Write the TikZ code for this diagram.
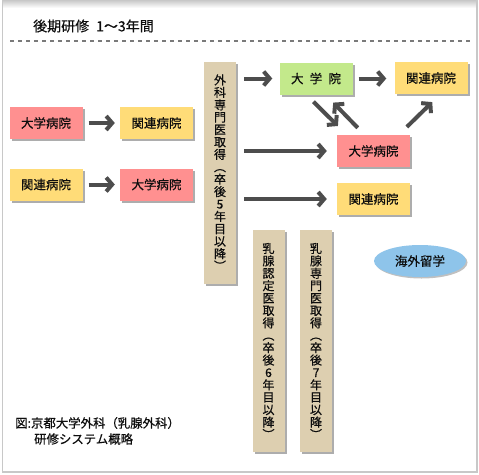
\documentclass[tikz,border=0pt]{standalone}
\usepackage{fontspec}
\newfontfamily\jp{Noto Sans CJK JP}[FakeBold=0.5]
\usetikzlibrary{arrows.meta,shapes.geometric,calc,shadows}
\definecolor{cred}{HTML}{FF9090}
\definecolor{cyel}{HTML}{FFDC78}
\definecolor{cgrn}{HTML}{C3E98B}
\definecolor{ctan}{HTML}{DDCFB0}
\definecolor{cblu}{HTML}{8EC4EA}
\definecolor{carr}{HTML}{4D4D4D}
\definecolor{cdash}{HTML}{7A7A7A}
\definecolor{cframe}{HTML}{C8C8C8}
\begin{document}
\begin{tikzpicture}[x=1pt,y=-1pt,
  shd/.style={drop shadow={shadow xshift=2pt,shadow yshift=-2pt,fill=black!40,opacity=0.8}},
  box/.style={rectangle,minimum width=73pt,minimum height=32pt,inner sep=0pt,
    font=\jp\fontsize{12.5}{14}\selectfont,text=black!95,shd},
  redbox/.style={box,fill=cred},
  yelbox/.style={box,fill=cyel},
  grnbox/.style={box,fill=cgrn},
  bar/.style={rectangle,minimum width=32pt,minimum height=222pt,inner sep=0pt,
    fill=ctan,shd,align=center,font=\jp\fontsize{12}{12.4}\selectfont,text=black!95},
  arr/.style={draw=carr,line width=4pt,-{Straight Barb[length=6pt,width=14pt]}},
  txt/.style={inner sep=0pt,text=black!95}
]
\useasboundingbox (0,0) rectangle (479,474);
% frame
\fill[white] (0,0) rectangle (479,474);
\shade[top color=black!22,bottom color=white] (2,0) rectangle (477,8);
\draw[cframe,line width=1.5pt] (2.5,0) -- (2.5,472) -- (476.8,472) -- (476.8,0);
% title
\node[txt,anchor=west,font=\jp\fontsize{14}{16}\selectfont] (title) at (33,26) {後期研修\hspace{7pt}1〜3年間};
\draw[cdash,line width=2pt,dash pattern=on 4.3pt off 3.7pt] (10,41) -- (470,41);
% left boxes
\node[redbox] (b1) at (46,123) {大学病院};
\node[yelbox] (y1) at (156.5,123) {関連病院};
\node[yelbox] (y2) at (46,184.5) {関連病院};
\node[redbox] (b2) at (156.5,184.5) {大学病院};
% bars
\node[bar] (bar1) at (220,172.5) {外\\科\\専\\門\\医\\取\\得\\︵\\卒\\後\\5\\年\\目\\以\\降\\︶};
\node[bar] (bar2) at (268.5,341) {乳\\腺\\認\\定\\医\\取\\得\\︵\\卒\\後\\6\\年\\目\\以\\降\\︶};
\node[bar] (bar3) at (316,341) {乳\\腺\\専\\門\\医\\取\\得\\︵\\卒\\後\\7\\年\\目\\以\\降\\︶};
% right boxes
\node[grnbox] (g) at (316,78.5) {大\hspace{0.5em}学\hspace{0.5em}院};
\node[yelbox] (ytr) at (431,78) {関連病院};
\node[redbox] (r) at (373.5,151) {大学病院};
\node[yelbox] (ym) at (373.5,199) {関連病院};
\node[ellipse,minimum width=92pt,minimum height=32pt,inner sep=0pt,fill=cblu,
  drop shadow={shadow xshift=1.5pt,shadow yshift=-1.5pt,fill=black!35,opacity=0.7},
  font=\jp\fontsize{12.5}{14}\selectfont,text=black!95] (abroad) at (420,261) {海外留学};
% arrows
\draw[arr,shorten <=6pt,shorten >=5pt] (b1.east) -- (y1.west);
\draw[arr,shorten <=6pt,shorten >=5pt] (y2.east) -- (b2.west);
\draw[arr,shorten <=8pt,shorten >=7pt] (bar1.east |- g.west) -- (g.west);
\draw[arr,shorten <=6pt,shorten >=8pt] (g.east) -- (ytr.west |- g.east);
\draw[arr,shorten <=8pt,shorten >=10pt] (bar1.east |- r.west) -- (r.west);
\draw[arr,shorten <=8pt,shorten >=10pt] (bar1.east |- ym.west) -- (ym.west);
\draw[arr,shorten <=10pt,shorten >=12.5pt] ($(g.south west)+(27,0)$) -- ($(r.north west)+(10,0)$);
\draw[arr,shorten <=9.7pt,shorten >=11pt] ($(r.north west)+(27.7,0)$) -- ($(g.south west)+(46.3,0)$);
\draw[arr,shorten <=11.3pt,shorten >=11.3pt] ($(r.north west)+(62,0)$) -- ($(ytr.south west)+(46,0)$);
% caption
\node[txt,anchor=west,font=\jp\fontsize{12.4}{14}\selectfont] (cap1) at (15,423) {図:京都大学外科（乳腺外科）};
\node[txt,anchor=west,font=\jp\fontsize{12.4}{14}\selectfont] (cap2) at (34,439) {研修システム概略};
\end{tikzpicture}
\end{document}
